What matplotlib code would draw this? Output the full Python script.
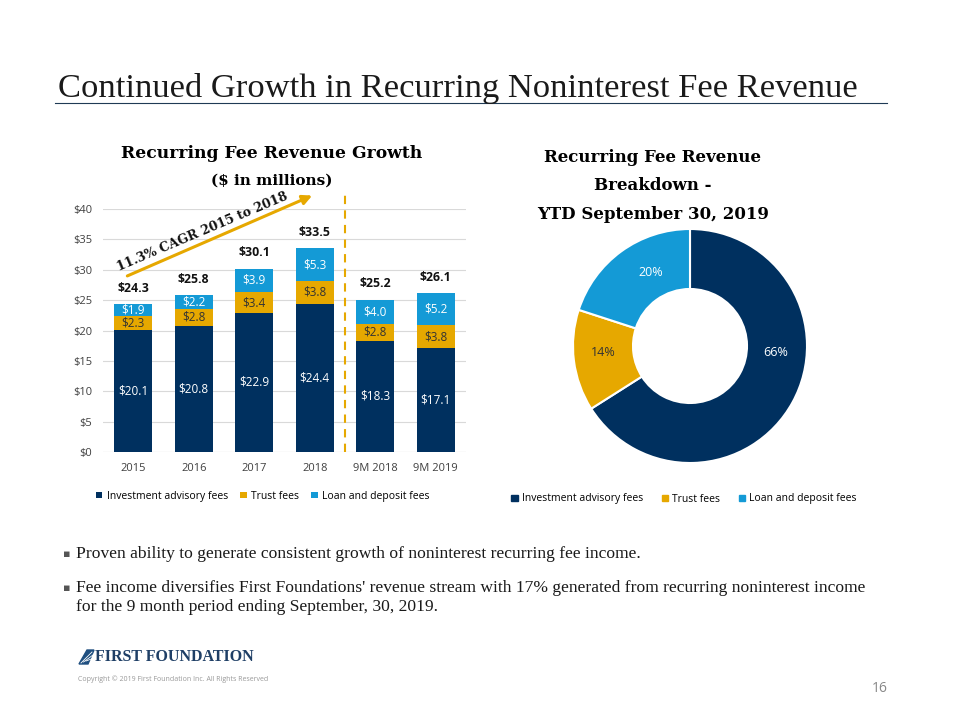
import numpy as np
import matplotlib
matplotlib.use('Agg')
import matplotlib.pyplot as plt
from matplotlib.patches import Patch, Polygon

# data
years = ['2015', '2016', '2017', '2018', '9M 2018', '9M 2019']
invest = [20.1, 20.8, 22.9, 24.4, 18.3, 17.1]
trust = [2.3, 2.8, 3.4, 3.8, 2.8, 3.8]
loan = [1.9, 2.2, 3.9, 5.3, 4.0, 5.2]
totals = [24.3, 25.8, 30.1, 33.5, 25.2, 26.1]

pie_labels = ['Investment advisory fees', 'Trust fees', 'Loan and deposit fees']
pie_share = [66, 14, 20]
# where the percentages sit inside the ring (axes data units)
pie_label_xy = [(0.71, -0.05), (-0.72, -0.05), (-0.33, 0.61)]

NAVY = '#00305f'
GOLD = '#e6a800'
BLUE = '#149ad6'
SERIF = 'Liberation Serif'
TSERIF = 'DejaVu Serif'      # wider serif for the chart headings
SANS = 'Open Sans'

fig = plt.figure(figsize=(9.6, 7.2), dpi=100)

# slide title + rule
fig.text(58 / 960, 1 - 89 / 720, 'Continued Growth in Recurring Noninterest Fee Revenue',
         family=SERIF, fontsize=24.8, color='#1a1a1a', va='center', ha='left')
fig.add_artist(plt.Line2D([55 / 960, 887 / 960], [1 - 103 / 720] * 2,
                          color='#1f3a55', lw=0.8))

# ---- stacked bars
ax = fig.add_axes([103 / 960, 1 - 452 / 720, 363 / 960, 243 / 720])
x = np.arange(len(years))
w = 0.63
bottom2 = np.array(invest)
bottom3 = bottom2 + np.array(trust)
ax.bar(x, invest, w, color=NAVY, label=pie_labels[0], zorder=3)
ax.bar(x, trust, w, bottom=bottom2, color=GOLD, label=pie_labels[1], zorder=3)
ax.bar(x, loan, w, bottom=bottom3, color=BLUE, label=pie_labels[2], zorder=3)

for i in range(len(years)):
    ax.text(x[i], invest[i] / 2, '$%.1f' % invest[i], ha='center', va='center',
            color='white', fontsize=8.5, family=SANS, zorder=4)
    ax.text(x[i], bottom2[i] + trust[i] / 2, '$%.1f' % trust[i], ha='center', va='center',
            color='#333333', fontsize=8.5, family=SANS, zorder=4)
    ax.text(x[i], bottom3[i] + loan[i] / 2, '$%.1f' % loan[i], ha='center', va='center',
            color='white', fontsize=8.5, family=SANS, zorder=4)
    ax.annotate('$%.1f' % totals[i], (x[i], bottom3[i] + loan[i]), xytext=(0, 7),
                textcoords='offset points', ha='center', va='bottom',
                fontsize=8.8, fontweight='bold', family=SANS, color='#111111')

ax.set_ylim(0, 40)
ax.set_xlim(-0.5, len(years) - 0.5)
ax.set_yticks(np.arange(0, 41, 5))
ax.set_yticklabels(['$%d' % v for v in range(0, 41, 5)])
ax.set_xticks(x)
ax.set_xticklabels(years)
ax.tick_params(length=0, labelsize=8, labelcolor='#404040', pad=8)
for lab in ax.get_xticklabels() + ax.get_yticklabels():
    lab.set_family(SANS)
ax.grid(axis='y', color='#d9d9d9', lw=0.8, zorder=0)
for sp in ax.spines.values():
    sp.set_visible(False)
ax.axhline(0, color='#d9d9d9', lw=0.8, zorder=2)

# dashed separator between annual and 9M
ax.plot([3.5, 3.5], [0, 43.0], ls=(0, (4, 3)), color=GOLD, lw=1.5, clip_on=False, zorder=3)

# CAGR arrow
ax.annotate('', xy=(3.0, 42.4), xytext=(-0.14, 28.8), annotation_clip=False,
            arrowprops=dict(arrowstyle='-|>', color=GOLD, lw=2.2, mutation_scale=14))
ax.text(1.15, 36.3, '11.3% CAGR 2015 to 2018', rotation=23, rotation_mode='anchor',
        ha='center', va='center', fontsize=9.0, fontweight='bold', family=TSERIF,
        color='#111111')

fig.text(272 / 960, 1 - 154 / 720, 'Recurring Fee Revenue Growth', ha='center',
         va='center', fontsize=12.3, fontweight='bold', family=TSERIF)
fig.text(272 / 960, 1 - 181 / 720, '($ in millions)', ha='center', va='center',
         fontsize=11, fontweight='bold', family=TSERIF)

ax.legend(loc='upper center', bbox_to_anchor=(0.44, -0.12), ncol=3, frameon=False,
          handlelength=0.6, handleheight=0.6, handletextpad=0.4,
          columnspacing=1.2, prop={'family': SANS, 'size': 7.5})

# ---- donut
ax2 = fig.add_axes([(690 - 120) / 960, 1 - (346 + 120) / 720, 240 / 960, 240 / 720])
ax2.pie(pie_share, colors=[NAVY, GOLD, BLUE], startangle=90, counterclock=False,
        radius=117 / 120, wedgeprops=dict(width=0.50, edgecolor='white', lw=1.5))
ax2.set_xlim(-1, 1)
ax2.set_ylim(-1, 1)
ax2.set_aspect('equal')
text_col = ['white', '#333333', 'white']
for share, col, (lx, ly) in zip(pie_share, text_col, pie_label_xy):
    ax2.text(lx, ly, '%d%%' % share, ha='center', va='center', color=col,
             fontsize=9, family=SANS)

for k, line in enumerate(['Recurring Fee Revenue', 'Breakdown -', 'YTD September 30, 2019']):
    fig.text(653 / 960, 1 - (157 + 28.5 * k) / 720, line, ha='center', va='center',
             fontsize=12, fontweight='bold', family=TSERIF)

fig.legend(handles=[Patch(color=c) for c in [NAVY, GOLD, BLUE]], labels=pie_labels,
           loc='center', bbox_to_anchor=(684 / 960, 1 - 499 / 720), ncol=3, frameon=False,
           handlelength=0.6, handleheight=0.6, handletextpad=0.4, columnspacing=1.8,
           prop={'family': SANS, 'size': 7.5})

# ---- bullets
bullets = [
    (554, 'Proven ability to generate consistent growth of noninterest recurring fee income.'),
    (588, "Fee income diversifies First Foundations' revenue stream with 17% generated from recurring noninterest income"),
    (607, 'for the 9 month period ending September, 30, 2019.'),
]
for yy, txt in bullets:
    fig.text(76 / 960, 1 - yy / 720, txt, ha='left', va='center', fontsize=12.6,
             family=SERIF, color='#1a1a1a')
for yy in (554, 588):
    fig.text(63 / 960, 1 - yy / 720, '\u25aa', ha='left', va='center', fontsize=8,
             color='#555555')

# ---- footer: logo mark, name, copyright, page number
logo = Polygon([[79 / 960, 1 - 664 / 720], [87 / 960, 1 - 650 / 720],
                [94 / 960, 1 - 650 / 720], [88 / 960, 1 - 664 / 720]],
               closed=True, transform=fig.transFigure, color='#1f4f80')
fig.add_artist(logo)
for k in range(3):
    fig.add_artist(plt.Line2D([(81 + 2.5 * k) / 960, (92 + 1 * k) / 960],
                              [1 - (663 - 1 * k) / 720, 1 - (652 + 3 * k) / 720],
                              color='white', lw=0.6))
fig.text(95 / 960, 1 - 657 / 720, 'FIRST FOUNDATION', ha='left', va='center',
         fontsize=11.5, fontweight='bold', family=SERIF, color='#1f3f66')
fig.text(78 / 960, 1 - 679 / 720, 'Copyright \u00a9 2019 First Foundation Inc. All Rights Reserved',
         ha='left', va='center', fontsize=5, family=SANS, color='#999999')
fig.text(888 / 960, 1 - 689 / 720, '16', ha='right', va='center', fontsize=10,
         family=SANS, color='#888888')

fig.savefig('out.png', dpi=100)
